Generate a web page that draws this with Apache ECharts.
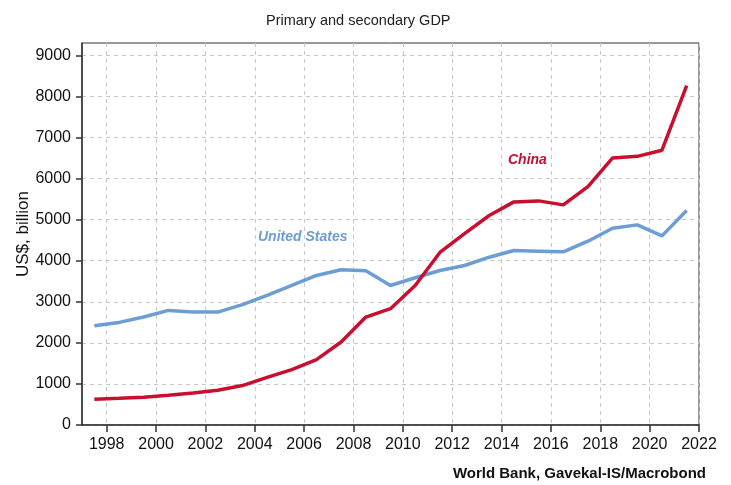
<!DOCTYPE html>
<html>
<head>
<meta charset="utf-8">
<script src="https://cdn.jsdelivr.net/npm/echarts@6/dist/echarts.min.js"></script>
<style>
  html, body { margin: 0; padding: 0; background: #fff; }
  #chart { width: 731px; height: 485px; }
</style>
</head>
<body>
<div id="chart"></div>
<script>
// Annual values, US$ billion (primary + secondary sector output)
var years = [1997, 1998, 1999, 2000, 2001, 2002, 2003, 2004, 2005, 2006, 2007, 2008, 2009,
             2010, 2011, 2012, 2013, 2014, 2015, 2016, 2017, 2018, 2019, 2020, 2021];
var china = [627, 650, 676, 724, 780, 846, 960, 1160, 1349, 1592, 2020, 2627, 2831,
             3397, 4200, 4660, 5100, 5432, 5456, 5359, 5803, 6501, 6541, 6690, 8260];
var unitedStates = [2418, 2498, 2630, 2790, 2750, 2749, 2930, 3154, 3397, 3640, 3779, 3754, 3397,
                    3584, 3762, 3883, 4085, 4248, 4232, 4216, 4474, 4790, 4872, 4605, 5220];
var xTicks = [1998, 2000, 2002, 2004, 2006, 2008, 2010, 2012, 2014, 2016, 2018, 2020, 2022];
var yTicks = [0, 1000, 2000, 3000, 4000, 5000, 6000, 7000, 8000, 9000];

var FONT = '"Liberation Sans", Arial, sans-serif';
var AXIS_COLOR = '#333';
var GRID_LINE = { show: true, lineStyle: { color: '#c8c8c8', type: [4, 4], width: 1 } };

// annual figures sit at mid-year on the time axis
function pairs(vals) {
  return years.map(function (y, i) { return [y + 0.5, vals[i]]; });
}

var chart = echarts.init(document.getElementById('chart'));
chart.setOption({
  animation: false,
  textStyle: { fontFamily: FONT },
  title: {
    text: 'Primary and secondary GDP',
    left: 261,
    top: 8,
    textStyle: { fontFamily: FONT, fontSize: 14.5, fontWeight: 'normal', color: '#222' }
  },
  grid: {
    left: 82, right: 32, top: 43, bottom: 60,
    outerBoundsMode: 'none',
    containLabel: false,
    show: true, borderColor: AXIS_COLOR, borderWidth: 1, backgroundColor: 'transparent'
  },
  xAxis: {
    type: 'value',
    min: 1997, max: 2022,
    axisLine: { lineStyle: { color: AXIS_COLOR, width: 1.5 } },
    axisTick: { customValues: xTicks, length: 7, lineStyle: { color: AXIS_COLOR, width: 1.5 } },
    axisLabel: {
      customValues: xTicks, margin: 12, fontSize: 16, color: '#111', fontFamily: FONT,
      formatter: function (v) { return String(v); }
    },
    splitLine: GRID_LINE
  },
  yAxis: {
    type: 'value',
    min: 0, max: 9300,
    name: 'US$, billion',
    nameLocation: 'middle',
    nameGap: 50,
    nameMoveOverlap: false,
    nameTextStyle: { fontFamily: FONT, fontSize: 17, color: '#111' },
    axisLine: { show: true, lineStyle: { color: AXIS_COLOR, width: 1.5 } },
    axisTick: { show: true, customValues: yTicks, length: 6, lineStyle: { color: AXIS_COLOR, width: 1.5 } },
    axisLabel: {
      customValues: yTicks, margin: 11, fontSize: 16, color: '#111', fontFamily: FONT,
      formatter: function (v) { return String(v); }
    },
    splitLine: GRID_LINE
  },
  series: [
    {
      name: 'United States',
      type: 'line',
      data: pairs(unitedStates),
      symbol: 'none',
      lineStyle: { color: '#6c9dd4', width: 3.5 },
      z: 3
    },
    {
      name: 'China',
      type: 'line',
      data: pairs(china),
      symbol: 'none',
      lineStyle: { color: '#c8102e', width: 3.5 },
      z: 4
    }
  ],
  graphic: [
    {
      type: 'text', left: 258, top: 230,
      style: { text: 'United States', fill: '#6c9dd4', fontFamily: FONT, fontSize: 14,
               fontStyle: 'italic', fontWeight: 'bold' }
    },
    {
      type: 'text', left: 508, top: 153,
      style: { text: 'China', fill: '#c8102e', fontFamily: FONT, fontSize: 14,
               fontStyle: 'italic', fontWeight: 'bold' }
    },
    {
      type: 'text', right: 25, top: 466,
      style: { text: 'World Bank, Gavekal-IS/Macrobond', fill: '#111', fontFamily: FONT,
               fontSize: 15, fontWeight: 'bold' }
    }
  ]
});
</script>
</body>
</html>
